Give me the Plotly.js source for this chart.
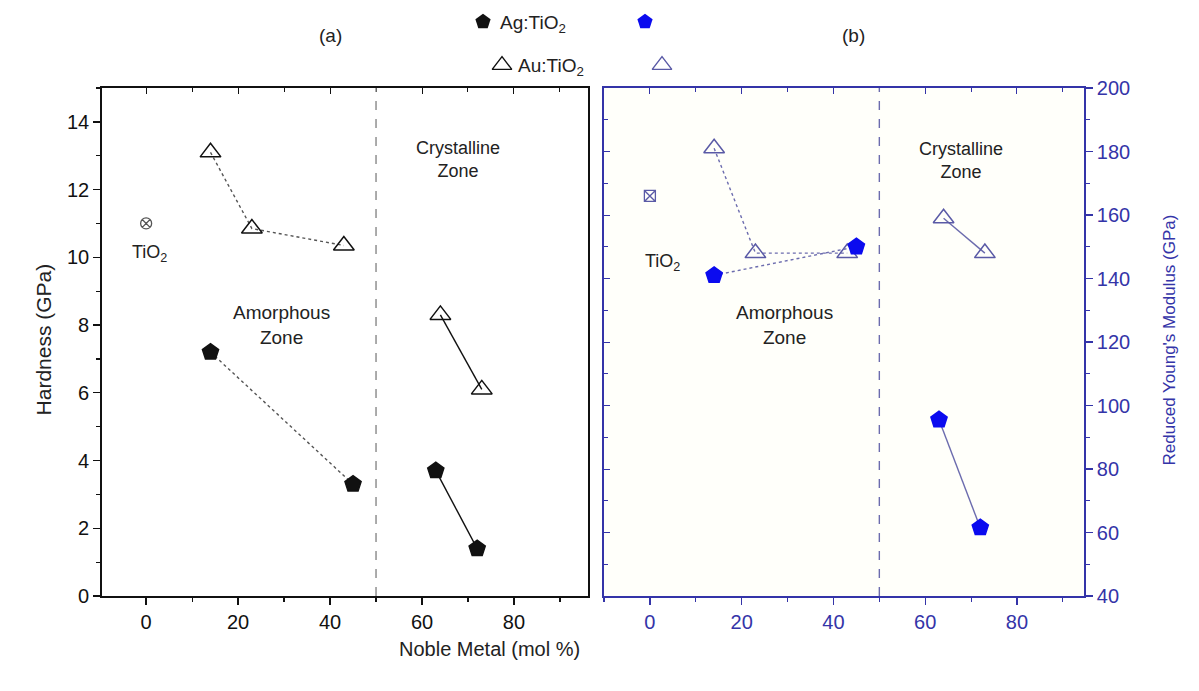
<!DOCTYPE html>
<html><head><meta charset="utf-8">
<script src="https://cdn.plot.ly/plotly-3.0.1.min.js"></script>
<style>html,body{margin:0;padding:0;background:#fff}#c{width:1199px;height:691px}</style>
</head><body><div id="c"></div>
<script>
// ---- data ----
const xAuAm = [14, 23, 43];
const xAuCr = [64, 73];
const xAgAm = [14, 45];
const xAgCr = [63, 72];
const xTiO2 = [0];
// Hardness (GPa), panel (a)
const hAuAm = [13.1, 10.85, 10.35];
const hAuCr = [8.3, 6.1];
const hAgAm = [7.2, 3.3];
const hAgCr = [3.7, 1.4];
const hTiO2 = [11.0];
// Reduced Young's modulus (GPa), panel (b)
const eAuAm = [181, 148, 148];
const eAuCr = [159, 148];
const eAgAm = [141, 150];
const eAgCr = [95.5, 61.5];
const eTiO2 = [166];
// tick values
const hTicks = [0, 2, 4, 6, 8, 10, 12, 14];
const eTicks = [40, 60, 80, 100, 120, 140, 160, 180, 200];
const xTicks = [0, 20, 40, 60, 80];
const legendNames = ['Ag:TiO<sub>2</sub>', 'Au:TiO<sub>2</sub>'];

const FONT = 'Liberation Sans, Arial, sans-serif';
const BLK = '#111111', GRY = '#555555';
const BLUE_AX = '#3434a8', BLUE_M = '#0b0bef', BLUE_T = '#5a5aa6', BLUE_L = '#6c6cae';

function tr(x, y, xa, ya, sym, col, lineCol, dash, size) {
  return {x: x, y: y, xaxis: xa, yaxis: ya, type: 'scatter', mode: 'lines+markers', showlegend: false,
    line: {color: lineCol, width: 1.4, dash: dash},
    marker: {symbol: sym, size: size, color: col, line: {color: col, width: 1.5}}};
}

const data = [
  tr(xAuAm, hAuAm, 'x', 'y', 'triangle-up-open', BLK, GRY, 'dot', 18),
  tr(xAuCr, hAuCr, 'x', 'y', 'triangle-up-open', BLK, BLK, 'solid', 18),
  tr(xAgAm, hAgAm, 'x', 'y', 'pentagon', BLK, GRY, 'dot', 17),
  tr(xAgCr, hAgCr, 'x', 'y', 'pentagon', BLK, BLK, 'solid', 17),
  {x: xTiO2, y: hTiO2, xaxis: 'x', yaxis: 'y', type: 'scatter', mode: 'markers', showlegend: false,
   marker: {symbol: 'circle-x-open', size: 11, color: GRY, line: {width: 1.3}}},
  tr(xAuAm, eAuAm, 'x2', 'y2', 'triangle-up-open', BLUE_T, BLUE_L, 'dot', 18),
  tr(xAuCr, eAuCr, 'x2', 'y2', 'triangle-up-open', BLUE_T, BLUE_L, 'solid', 18),
  tr(xAgAm, eAgAm, 'x2', 'y2', 'pentagon', BLUE_M, BLUE_L, 'dot', 17),
  tr(xAgCr, eAgCr, 'x2', 'y2', 'pentagon', BLUE_M, BLUE_L, 'solid', 17),
  {x: xTiO2, y: eTiO2, xaxis: 'x2', yaxis: 'y2', type: 'scatter', mode: 'markers', showlegend: false,
   marker: {symbol: 'square-x-open', size: 11, color: BLUE_T, line: {width: 1.3}}},
  // dummy traces so overlay axes render
  {x: [null], y: [null], xaxis: 'x3', yaxis: 'y', type: 'scatter', showlegend: false, hoverinfo: 'skip'},
  {x: [null], y: [null], xaxis: 'x4', yaxis: 'y2', type: 'scatter', showlegend: false, hoverinfo: 'skip'},
  {x: [null], y: [null], xaxis: 'x2', yaxis: 'y3', type: 'scatter', showlegend: false, hoverinfo: 'skip'},
  // legend symbols (header area axes)
  {x: [483, 645], y: [22, 22], xaxis: 'x5', yaxis: 'y5', type: 'scatter', mode: 'markers', showlegend: false,
   marker: {symbol: 'pentagon', size: 16, color: [BLK, BLUE_M], line: {width: 0}}},
  {x: [502, 662], y: [66, 66], xaxis: 'x5', yaxis: 'y5', type: 'scatter', mode: 'markers', showlegend: false,
   marker: {symbol: 'triangle-up-open', size: 17, color: [BLK, BLUE_T], line: {width: 1.4}}}
];

const yTop = 508 / 586;
const d1 = [0, 0.4949], d2 = [0.5112, 1];
const rx1 = [-9.6, 96.1], rx2 = [-10, 94.6];

function xax(dom, rng, col, anchor) {
  return {domain: dom, range: rng, anchor: anchor, tickvals: xTicks, ticks: 'outside', ticklen: 7, tickwidth: 1.3,
    tickcolor: col, showline: true, linecolor: col, linewidth: 1.8, zeroline: false, showgrid: false,
    tickfont: {family: FONT, size: 20, color: col},
    minor: {dtick: 10, tick0: 0, ticks: 'outside', ticklen: 4, tickcolor: col, tickwidth: 1.2, showgrid: false}};
}

const layout = {
  width: 1199, height: 691,
  margin: {l: 102, r: 115, t: 10, b: 95},
  paper_bgcolor: '#ffffff', plot_bgcolor: 'rgba(0,0,0,0)',
  showlegend: false,
  xaxis: xax(d1, rx1, BLK, 'y'),
  xaxis2: xax(d2, rx2, BLUE_AX, 'y2'),
  xaxis3: {overlaying: 'x', side: 'top', anchor: 'y', range: rx1, showline: true, linecolor: BLK, linewidth: 1.8,
    ticks: 'inside', ticklen: 6, tickcolor: BLK, tickvals: xTicks, showticklabels: false, showgrid: false, zeroline: false,
    minor: {dtick: 10, tick0: 0, ticks: 'inside', ticklen: 4, tickcolor: BLK}},
  xaxis4: {overlaying: 'x2', side: 'top', anchor: 'y2', range: rx2, showline: true, linecolor: BLUE_AX, linewidth: 1.8,
    ticks: 'inside', ticklen: 6, tickcolor: BLUE_AX, tickvals: xTicks, showticklabels: false, showgrid: false, zeroline: false,
    minor: {dtick: 10, tick0: 0, ticks: 'inside', ticklen: 4, tickcolor: BLUE_AX}},
  yaxis: {domain: [0, yTop], range: [0, 15], anchor: 'x', tickvals: hTicks, ticks: 'outside', ticklen: 7, tickwidth: 1.3,
    tickcolor: BLK, showline: true, linecolor: BLK, linewidth: 1.8, mirror: true, zeroline: false, showgrid: false,
    tickfont: {family: FONT, size: 20, color: BLK},
    minor: {dtick: 1, tick0: 0, ticks: 'outside', ticklen: 4, tickcolor: BLK, tickwidth: 1.2}},
  yaxis2: {domain: [0, yTop], range: [40, 200], anchor: 'x2', side: 'right', tickvals: eTicks, ticks: 'outside', ticklen: 7,
    tickwidth: 1.3, tickcolor: BLUE_AX, showline: true, linecolor: BLUE_AX, linewidth: 1.8, zeroline: false, showgrid: false,
    tickfont: {family: FONT, size: 20, color: BLUE_AX},
    minor: {dtick: 10, tick0: 40, ticks: 'outside', ticklen: 4, tickcolor: BLUE_AX, tickwidth: 1.2}},
  yaxis3: {overlaying: 'y2', side: 'left', anchor: 'x2', range: [40, 200], showline: true, linecolor: BLUE_AX, linewidth: 1.8,
    ticks: 'inside', ticklen: 6, tickcolor: BLUE_AX, tickvals: eTicks, showticklabels: false, showgrid: false, zeroline: false,
    minor: {dtick: 10, tick0: 40, ticks: 'inside', ticklen: 4, tickcolor: BLUE_AX}},
  xaxis5: {domain: [0, 1], range: [102, 1084], anchor: 'y5', visible: false, fixedrange: true},
  yaxis5: {domain: [yTop + 0.002, 1], range: [88, 10], anchor: 'x5', visible: false, fixedrange: true},
  shapes: [
    {type: 'rect', xref: 'x2 domain', yref: 'y2 domain', x0: 0, x1: 1, y0: 0, y1: 1, layer: 'below',
     fillcolor: '#fffffa', line: {width: 0}},
    {type: 'line', xref: 'x', yref: 'y domain', x0: 50, x1: 50, y0: 0, y1: 1, line: {color: '#888', width: 1.4, dash: 'dash'}},
    {type: 'line', xref: 'x2', yref: 'y2 domain', x0: 50, x1: 50, y0: 0, y1: 1, line: {color: BLUE_L, width: 1.4, dash: 'dash'}}
  ],
  annotations: [
    {xref: 'x5', yref: 'y5', x: 330, y: 36, text: '(a)', showarrow: false, font: {family: FONT, size: 19, color: '#222'}},
    {xref: 'x5', yref: 'y5', x: 853, y: 36, text: '(b)', showarrow: false, font: {family: FONT, size: 19, color: '#222'}},
    {xref: 'x5', yref: 'y5', x: 498, y: 24, text: legendNames[0], xanchor: 'left', showarrow: false, font: {family: FONT, size: 19, color: '#222'}},
    {xref: 'x5', yref: 'y5', x: 516, y: 68, text: legendNames[1], xanchor: 'left', showarrow: false, font: {family: FONT, size: 19, color: '#222'}},
    {xref: 'x', yref: 'y', x: 0.7, y: 10.1, text: 'TiO<sub>2</sub>', showarrow: false, font: {family: FONT, size: 18, color: '#222'}},
    {xref: 'x', yref: 'y', x: 29.5, y: 8.0, text: 'Amorphous<br>Zone', showarrow: false, font: {family: FONT, size: 19, color: '#222'}},
    {xref: 'x', yref: 'y', x: 67.8, y: 12.9, text: 'Crystalline<br>Zone', showarrow: false, font: {family: FONT, size: 18, color: '#222'}},
    {xref: 'x2', yref: 'y2', x: 2.8, y: 145, text: 'TiO<sub>2</sub>', showarrow: false, font: {family: FONT, size: 18, color: '#222'}},
    {xref: 'x2', yref: 'y2', x: 29.3, y: 125.4, text: 'Amorphous<br>Zone', showarrow: false, font: {family: FONT, size: 19, color: '#222'}},
    {xref: 'x2', yref: 'y2', x: 67.7, y: 177.3, text: 'Crystalline<br>Zone', showarrow: false, font: {family: FONT, size: 18, color: '#222'}},
    {xref: 'paper', yref: 'paper', x: -0.0733, y: 0.437, text: 'Hardness (GPa)', textangle: -90, showarrow: false,
     font: {family: FONT, size: 21, color: '#222'}},
    {xref: 'paper', yref: 'paper', x: 0.395, y: -0.1126, text: 'Noble Metal (mol %)', showarrow: false,
     font: {family: FONT, size: 20, color: '#222'}},
    {xref: 'paper', yref: 'paper', x: 1.0988, y: 0.437, text: "Reduced Young's Modulus (GPa)", textangle: -90, showarrow: false,
     font: {family: FONT, size: 17, color: BLUE_AX}}
  ]
};

Plotly.newPlot('c', data, layout, {staticPlot: true, displayModeBar: false});
</script>
</body></html>
